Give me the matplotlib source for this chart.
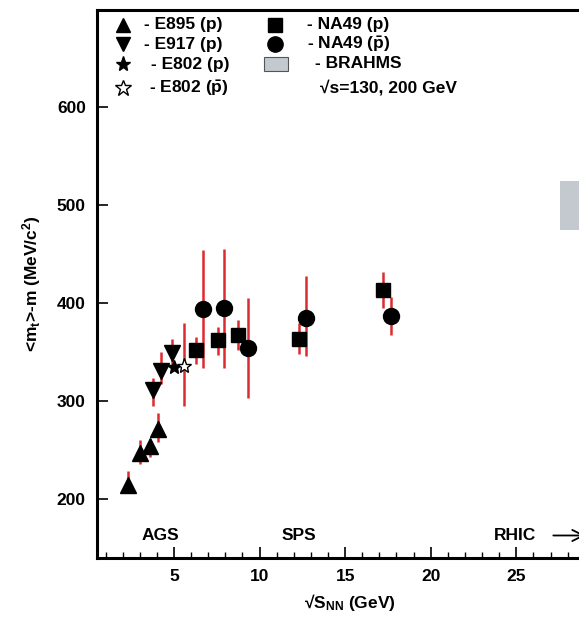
import numpy as np
import matplotlib
matplotlib.use("Agg")
import matplotlib.pyplot as plt
from matplotlib.patches import Rectangle

plt.rcParams['font.family'] = ['Liberation Sans', 'DejaVu Sans']
plt.rcParams['font.weight'] = 'bold'
plt.rcParams['mathtext.fontset'] = 'custom'
plt.rcParams['mathtext.rm'] = 'Liberation Sans:bold'
plt.rcParams['mathtext.it'] = 'Liberation Sans:bold'
plt.rcParams['mathtext.bf'] = 'Liberation Sans:bold'
plt.rcParams['mathtext.default'] = 'rm'

# E895 (p)
e895_x = [2.33, 3.01, 3.60, 4.08]
e895_y = [215, 247, 254, 272]
e895_lo = [206, 236, 243, 258]
e895_hi = [229, 260, 261, 288]
# E917 (p)
e917_x = [3.79, 4.24, 4.86]
e917_y = [311, 331, 349]
e917_lo = [295, 318, 334]
e917_hi = [324, 350, 363]
# E802 (p) and E802 (pbar)
e802p_x = [5.0]
e802p_y = [335]
e802p_lo = [331]
e802p_hi = [339]
e802a_x = [5.58]
e802a_y = [336]
e802a_lo = [295]
e802a_hi = [380]
# NA49 (p)
na49p_x = [6.27, 7.59, 8.76, 12.29, 17.22]
na49p_y = [352, 362, 367, 363, 413]
na49p_lo = [338, 347, 352, 348, 395]
na49p_hi = [365, 376, 383, 380, 432]
# NA49 (pbar)
na49a_x = [6.68, 7.94, 9.30, 12.69, 17.66]
na49a_y = [394, 395, 354, 385, 387]
na49a_lo = [334, 334, 303, 346, 368]
na49a_hi = [454, 455, 405, 428, 406]
# BRAHMS band (sqrt(s)=130, 200 GeV, drawn at right edge)
brahms_x0 = 27.55
brahms_lo = 475
brahms_hi = 525

red = '#dd2a30'

fig = plt.figure(figsize=(5.79, 6.21), dpi=100)
ax = fig.add_axes([0.1675, 0.1014, 0.872, 0.8825])
ax.set_xlim(0.5, 30)
ax.set_ylim(140, 699)


def series(x, y, lo, hi, marker, ms, fc='black'):
    x = np.array(x)
    y = np.array(y)
    ax.vlines(x, lo, hi, colors=red, lw=1.8, zorder=2)
    ax.plot(x, y, ls='none', marker=marker, ms=ms, mfc=fc, mec='black',
            mew=1.0, zorder=3)


series(e895_x, e895_y, e895_lo, e895_hi, '^', 11)
series(e917_x, e917_y, e917_lo, e917_hi, 'v', 11)
series(na49p_x, na49p_y, na49p_lo, na49p_hi, 's', 10.5)
series(na49a_x, na49a_y, na49a_lo, na49a_hi, 'o', 11.5)
series(e802p_x, e802p_y, e802p_lo, e802p_hi, '*', 10)
series(e802a_x, e802a_y, e802a_lo, e802a_hi, '*', 11, fc='white')

ax.add_patch(Rectangle((brahms_x0, brahms_lo), 5, brahms_hi - brahms_lo,
                       facecolor='#c4c9cf', edgecolor='none', zorder=1))

# spines and ticks
for s in ax.spines.values():
    s.set_linewidth(2.2)
ax.set_xticks([5, 10, 15, 20, 25])
ax.set_xticks(np.arange(1, 30, 1), minor=True)
ax.set_yticks([200, 300, 400, 500, 600])
ax.tick_params(axis='both', which='major', direction='in', length=8,
               width=1.2, labelsize=12.5, pad=8)
ax.tick_params(axis='x', which='minor', direction='in', length=4, width=1.0)
ax.tick_params(axis='y', which='minor', left=False)
for lab in ax.get_xticklabels() + ax.get_yticklabels():
    lab.set_fontweight('bold')

ax.set_xlabel('√S$_{NN}$ (GeV)', fontsize=12.5, fontweight='bold', labelpad=6)
ax.set_ylabel('<m$_t$>-m (MeV/c$^2$)', fontsize=12.5, fontweight='bold',
              labelpad=10)

# accelerator labels
ax.text(4.18, 163, 'AGS', ha='center', va='center', fontsize=12.5,
        fontweight='bold')
ax.text(12.3, 163, 'SPS', ha='center', va='center', fontsize=12.5,
        fontweight='bold')
ax.text(23.7, 163, 'RHIC', ha='left', va='center', fontsize=12.5,
        fontweight='bold')
ax.annotate('', xy=(29.2, 163), xytext=(27.0, 163),
            arrowprops=dict(arrowstyle='->', lw=1.3, color='black',
                            mutation_scale=20))

# legend drawn by hand in figure pixels
W, H = 579, 621


def fx(px):
    return px / W


def fy(py):
    return 1 - py / H


col1 = [('^', 'black', 10.5, 25, '- E895 (p)', 144),
        ('v', 'black', 10.5, 44, '- E917 (p)', 144),
        ('*', 'black', 11, 64, '- E802 (p)', 151),
        ('*', 'white', 12, 88, r'- E802 ($\bar{p}$)', 149)]
for m, fc, ms, py, label, tx in col1:
    fig.lines.append(plt.Line2D([fx(123)], [fy(py)], transform=fig.transFigure,
                                marker=m, ms=ms, mfc=fc, mec='black', mew=1.0,
                                ls='none'))
    fig.text(fx(tx), fy(py), label, ha='left', va='center', fontsize=12.5,
             fontweight='bold')

fig.lines.append(plt.Line2D([fx(275)], [fy(25)], transform=fig.transFigure,
                            marker='s', ms=10, mfc='black', mec='black',
                            ls='none'))
fig.lines.append(plt.Line2D([fx(275)], [fy(44)], transform=fig.transFigure,
                            marker='o', ms=11, mfc='black', mec='black',
                            ls='none'))
fig.patches.append(Rectangle((fx(264), fy(71)), 24 / W, 14 / H,
                             transform=fig.transFigure, facecolor='#c4c9cf',
                             edgecolor='#555555', lw=0.8))
fig.text(fx(307), fy(25), '- NA49 (p)', ha='left', va='center', fontsize=12.5,
         fontweight='bold')
fig.text(fx(307), fy(44), r'- NA49 ($\bar{p}$)', ha='left', va='center',
         fontsize=12.5, fontweight='bold')
fig.text(fx(315), fy(64), '- BRAHMS', ha='left', va='center', fontsize=12.5,
         fontweight='bold')
fig.text(fx(320), fy(88), '√s=130, 200 GeV', ha='left', va='center',
         fontsize=12.5, fontweight='bold')

fig.savefig('out.png', dpi=100)
